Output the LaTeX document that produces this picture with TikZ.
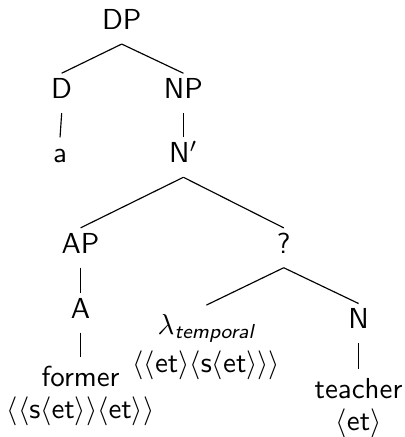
\documentclass[tikz,border=0pt]{standalone}
\usepackage{amsmath}
\usepackage{amssymb}
\usepackage{tikz}
\renewcommand{\familydefault}{\sfdefault}

\begin{document}
\begin{tikzpicture}[cat/.style={anchor=base, inner sep=0pt, text height=8.6pt, text depth=4.8pt},
	leaf/.style={anchor=north, inner xsep=0pt, inner ysep=3pt, align=center}]
			\useasboundingbox (0, 0) rectangle (4.913, -5.314);
			
			\node[cat] (DP) at (1.48, -0.36) {DP};
			\node[cat] (D) at (0.75, -1.20) {D};
			\node[cat] (NP) at (2.23, -1.20) {NP};
			\node[cat] (a) at (0.73, -1.98) {a};
			\node[cat] (Nbar) at (2.23, -1.98) {N$'$};
			\node[cat] (AP) at (0.98, -3.08) {AP};
			\node[cat] (Q) at (3.45, -3.08) {?};
			\node[cat] (A) at (0.98, -3.87) {A};
			\node[leaf] (lambda) at (2.51, -3.71) {$\lambda_{\textit{temporal}}$\\[1.1pt]$\langle\langle$et$\rangle\langle$s$\langle$et$\rangle\rangle\rangle$};
			\node[cat] (N) at (4.36, -4.00) {N};
			\node[leaf] (former) at (0.98, -4.34) {former\\[-1pt]$\langle\langle$s$\langle$et$\rangle\rangle\langle$et$\rangle\rangle$};
			\node[leaf] (teacher) at (4.36, -4.49) {teacher\\[-1pt]$\langle$et$\rangle$};
			
			\draw (DP.south)--(D.north);
			\draw (DP.south)--(NP.north);
			\draw (D.south)--(a.north);
			\draw (NP.south)--(Nbar.north);
			\draw (Nbar.south)--(AP.north);
			\draw (Nbar.south)--(Q.north);
			\draw (AP.south)--(A.north);
			\draw (A.south)--(former.north);
			\draw (Q.south)--(lambda.north);
			\draw (Q.south)--(N.north);
			\draw (N.south)--(teacher.north);
\end{tikzpicture}
\end{document}
